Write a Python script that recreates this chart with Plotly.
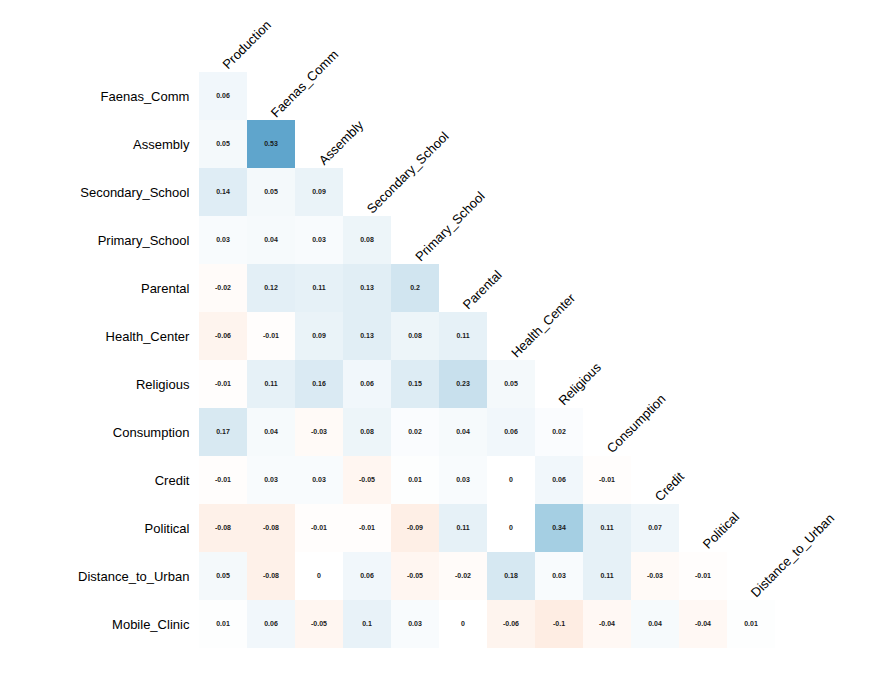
import plotly.graph_objects as go

columns = ["Production", "Faenas_Comm", "Assembly", "Secondary_School", "Primary_School",
           "Parental", "Health_Center", "Religious", "Consumption", "Credit",
           "Political", "Distance_to_Urban"]
rows = ["Faenas_Comm", "Assembly", "Secondary_School", "Primary_School", "Parental",
        "Health_Center", "Religious", "Consumption", "Credit", "Political",
        "Distance_to_Urban", "Mobile_Clinic"]

# lower triangle of the correlation matrix, one list per row
faenas_comm = [0.06]
assembly = [0.05, 0.53]
secondary_school = [0.14, 0.05, 0.09]
primary_school = [0.03, 0.04, 0.03, 0.08]
parental = [-0.02, 0.12, 0.11, 0.13, 0.2]
health_center = [-0.06, -0.01, 0.09, 0.13, 0.08, 0.11]
religious = [-0.01, 0.11, 0.16, 0.06, 0.15, 0.23, 0.05]
consumption = [0.17, 0.04, -0.03, 0.08, 0.02, 0.04, 0.06, 0.02]
credit = [-0.01, 0.03, 0.03, -0.05, 0.01, 0.03, 0, 0.06, -0.01]
political = [-0.08, -0.08, -0.01, -0.01, -0.09, 0.11, 0, 0.34, 0.11, 0.07]
distance_to_urban = [0.05, -0.08, 0, 0.06, -0.05, -0.02, 0.18, 0.03, 0.11, -0.03, -0.01]
mobile_clinic = [0.01, 0.06, -0.05, 0.1, 0.03, 0, -0.06, -0.1, -0.04, 0.04, -0.04, 0.01]

lower = [faenas_comm, assembly, secondary_school, primary_school, parental, health_center,
         religious, consumption, credit, political, distance_to_urban, mobile_clinic]

n = len(columns)
z = [r + [None] * (n - len(r)) for r in lower]
text = [[f"{v:g}" for v in r] + [""] * (n - len(r)) for r in lower]

rdbu = [[0.0, "#67001f"], [0.1, "#b2182b"], [0.2, "#d6604d"], [0.3, "#f4a582"],
        [0.4, "#fddbc7"], [0.5, "#ffffff"], [0.6, "#d1e5f0"], [0.7, "#92c5de"],
        [0.8, "#4393c3"], [0.9, "#2166ac"], [1.0, "#053061"]]

font = "Liberation Sans, Arial, sans-serif"

fig = go.Figure(go.Heatmap(
    z=z, x=columns, y=rows, text=text, texttemplate="%{text}",
    textfont=dict(family=font, size=7, color="#1a1a1a", weight="bold"),
    colorscale=rdbu, zmin=-1, zmax=1, showscale=False, hoverinfo="skip",
))

# diagonal column labels above each column's first cell
for j, c in enumerate(columns):
    fig.add_annotation(x=j, y=j - 0.5, text=c, textangle=-45, showarrow=False,
                       xanchor="left", yanchor="bottom", xshift=-6, yshift=-3,
                       font=dict(family=font, size=13, color="black"))

# fixed ranges so the annotations don't widen the autorange
fig.update_xaxes(range=[-0.5, n - 0.5], showticklabels=False, showgrid=False,
                 zeroline=False, ticks="", automargin=False)
fig.update_yaxes(range=[len(rows) - 0.5, -0.5], showgrid=False, zeroline=False,
                 ticks="outside", ticklen=6, tickcolor="rgba(0,0,0,0)",
                 automargin=False,
                 tickfont=dict(family=font, size=13, color="black"))

# page body has an 8px margin, so the margins are shifted by that amount
fig.update_layout(
    width=874, height=680,
    margin=dict(l=191, r=107, t=64, b=40),
    plot_bgcolor="white", paper_bgcolor="white",
)

fig.write_html("out.html")
